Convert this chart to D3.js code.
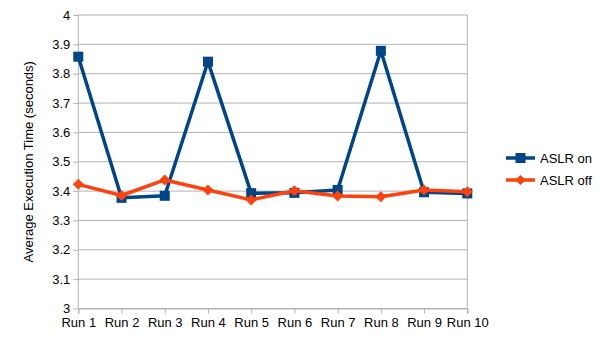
<!DOCTYPE html>
<html><head><meta charset="utf-8">
<script src="https://cdn.jsdelivr.net/npm/d3@7"></script>
<style>body{margin:0;background:#fff}svg{display:block;font-family:"Liberation Sans",Arial,sans-serif}</style>
</head><body>
<svg id="c" width="605" height="340"></svg>
<script>
const categories = ["Run 1","Run 2","Run 3","Run 4","Run 5","Run 6","Run 7","Run 8","Run 9","Run 10"];
const aslrOn  = [3.858,3.377,3.384,3.841,3.393,3.394,3.404,3.878,3.396,3.392];
const aslrOff = [3.423,3.385,3.438,3.404,3.370,3.401,3.383,3.381,3.404,3.398];
const yTicks = [3,3.1,3.2,3.3,3.4,3.5,3.6,3.7,3.8,3.9,4];
const seriesNames = ["ASLR on","ASLR off"];
const colors = ["#004586","#ff420e"];

const svg = d3.select("#c");
const L=78.3, R=467.3, T=15, B=308.5;
const x = d3.scalePoint().domain(categories).range([L,R]);
const y = d3.scaleLinear().domain([3,4]).range([B,T]);

svg.append("g").selectAll("line").data(yTicks).join("line")
  .attr("x1",L).attr("x2",R).attr("y1",d=>y(d)).attr("y2",d=>y(d))
  .attr("stroke","#b3b3b3").attr("stroke-width",1);
svg.append("line").attr("x1",R).attr("x2",R).attr("y1",T).attr("y2",B).attr("stroke","#b3b3b3");

const yAxis = svg.append("g").attr("transform",`translate(${L},0)`)
  .call(d3.axisLeft(y).tickValues(yTicks).tickFormat(d=>d3.format("")(+d.toFixed(1))).tickSize(5).tickPadding(3));
const xAxis = svg.append("g").attr("transform",`translate(0,${B})`)
  .call(d3.axisBottom(x).tickSize(5).tickPadding(4));
[yAxis,xAxis].forEach(a=>{
  a.selectAll("path,line").attr("stroke","#b3b3b3");
  a.selectAll("text").attr("fill","#000").style("font-size","13px").style("font-family","'Liberation Sans',Arial,sans-serif");
});
yAxis.select(".domain").attr("d",`M0,${T}V${B}`);

svg.append("text").attr("transform",`translate(33,${(T+B)/2}) rotate(-90)`)
  .attr("text-anchor","middle").style("font-size","13px").text("Average Execution Time (seconds)");

const line = d3.line().x((d,i)=>x(categories[i])).y(d=>y(d));
const data = [aslrOn, aslrOff];
data.forEach((vals,si)=>{
  svg.append("path").datum(vals).attr("d",line).attr("fill","none")
    .attr("stroke",colors[si]).attr("stroke-width",3.5).attr("stroke-linejoin","round");
  const g = svg.append("g");
  if(si===0){
    g.selectAll("rect").data(vals).join("rect")
      .attr("x",(d,i)=>x(categories[i])-5).attr("y",d=>y(d)-5).attr("width",10).attr("height",10)
      .attr("fill",colors[si]);
  } else {
    g.selectAll("path").data(vals).join("path")
      .attr("d",d3.symbol(d3.symbolSquare,60)())
      .attr("transform",(d,i)=>`translate(${x(categories[i])},${y(d)}) rotate(45)`)
      .attr("fill",colors[si]);
  }
});

const lg = svg.append("g");
seriesNames.forEach((n,i)=>{
  const yy = 158 + i*22;
  lg.append("line").attr("x1",506).attr("x2",535).attr("y1",yy).attr("y2",yy).attr("stroke",colors[i]).attr("stroke-width",3.5);
  if(i===0) lg.append("rect").attr("x",515.5).attr("y",yy-5).attr("width",10).attr("height",10).attr("fill",colors[i]);
  else lg.append("path").attr("d",d3.symbol(d3.symbolSquare,50)()).attr("transform",`translate(520.5,${yy}) rotate(45)`).attr("fill",colors[i]);
  lg.append("text").attr("x",540).attr("y",yy+4.5).style("font-size","13px").text(n);
});
</script>
</body></html>
